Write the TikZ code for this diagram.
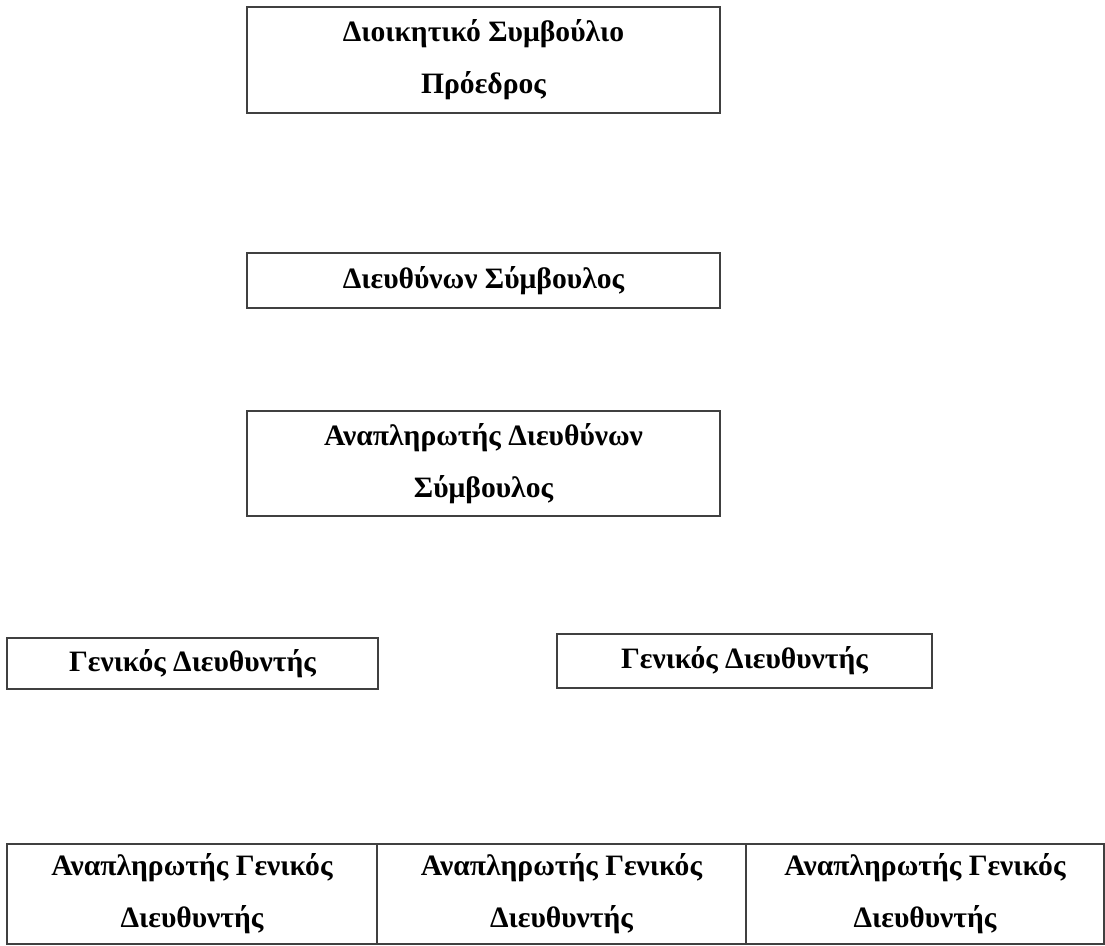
\documentclass[tikz,border=0pt]{standalone}
\usepackage{fontspec}
\setmainfont{Liberation Serif}
\usetikzlibrary{positioning}

\begin{document}
\begin{tikzpicture}[x=0.5pt, y=-0.5pt,
        orgbox/.style={draw=black!75, line width=0.6pt, align=center, inner sep=0pt, outer sep=0pt,
            font=\fontsize{14.8}{26}\selectfont\bfseries}]
        \useasboundingbox (0,0) rectangle (1105,946);

        \node[orgbox, minimum width=236.5pt, minimum height=53pt] (board) at (483.5,60) {Διοικητικό Συμβούλιο\\Πρόεδρος};
        \node[orgbox, minimum width=236.5pt, minimum height=27.5pt] (ceo) at (483.5,280.5) {Διευθύνων Σύμβουλος};
        \node[orgbox, minimum width=236.5pt, minimum height=52.5pt] (deputy) at (483.5,463.5) {Αναπληρωτής Διευθύνων\\Σύμβουλος};

        \node[orgbox, minimum width=185.5pt, minimum height=25.5pt] (gmleft) at (192.5,663.5) {Γενικός Διευθυντής};
        \node[orgbox, minimum width=187.5pt, minimum height=27pt] (gmright) at (744.5,661) {Γενικός Διευθυντής};

        \node[orgbox, anchor=north west, minimum width=185pt, minimum height=50pt] (agmone) at (7,844) {Αναπληρωτής Γενικός\\Διευθυντής};
        \node[orgbox, minimum width=184.5pt, minimum height=50pt, right=0pt of agmone] (agmtwo) {Αναπληρωτής Γενικός\\Διευθυντής};
        \node[orgbox, minimum width=179pt, minimum height=50pt, right=0pt of agmtwo] (agmthree) {Αναπληρωτής Γενικός\\Διευθυντής};
\end{tikzpicture}
\end{document}
